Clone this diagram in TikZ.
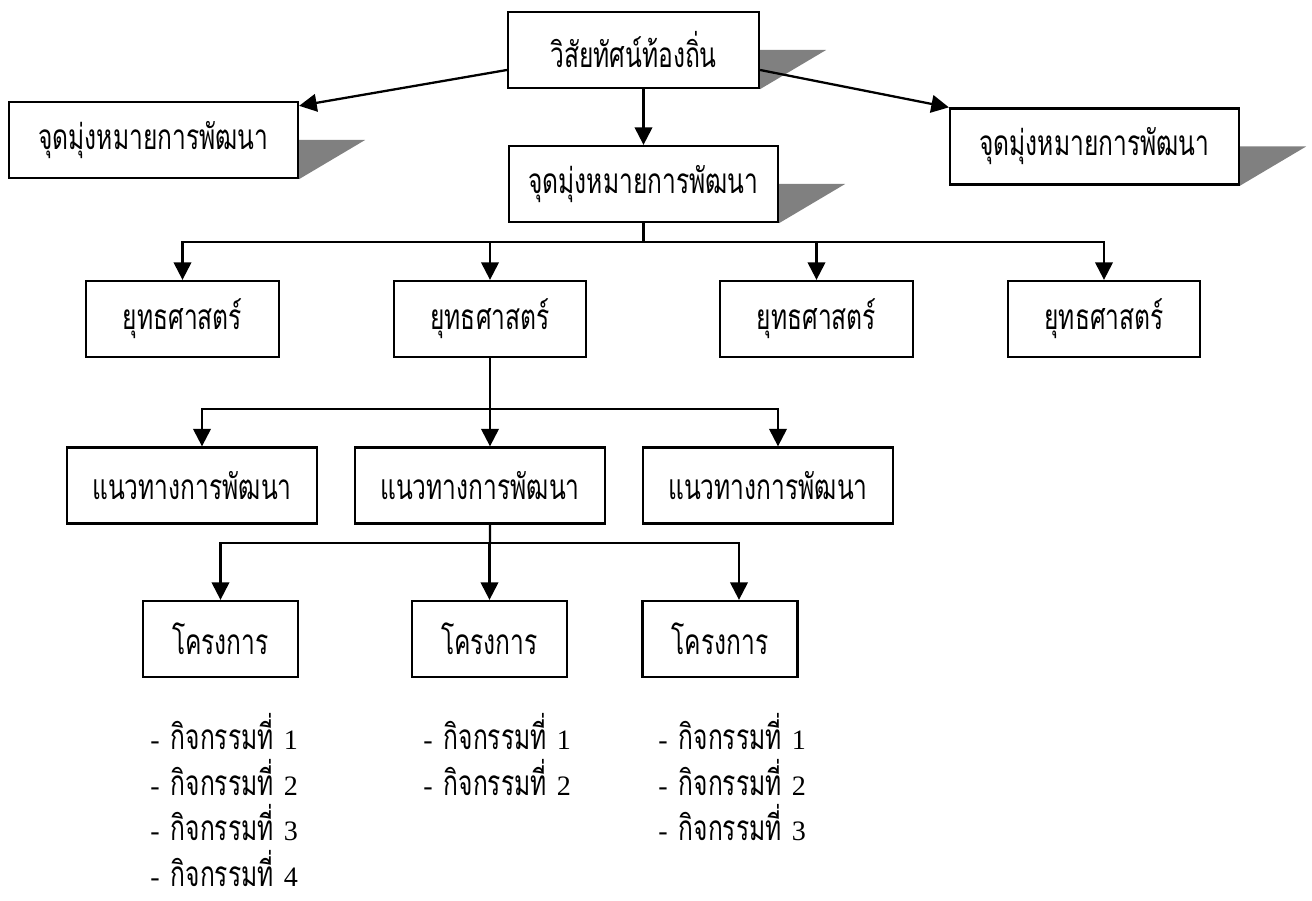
\documentclass[tikz,border=0pt]{standalone}
\usepackage{fontspec}
\setmainfont{Liberation Serif}
\newfontfamily\thaifont[Script=Thai, FakeStretch=0.7]{Loma}
\usetikzlibrary{arrows.meta, backgrounds}
\newcommand{\thtxt}[1]{{\thaifont\fontsize{20}{24}\selectfont #1}}
\tikzstyle{box} = [rectangle, minimum height=1.52cm, inner sep=0pt, text centered, draw=black, line width=1.3pt, font=\thaifont\fontsize{20}{24}\selectfont]
\tikzstyle{shade} = [fill=gray, draw=none]
\tikzstyle{line} = [line width=1.3pt]
\tikzstyle{arrow} = [line width=1.3pt,-{Triangle[length=10pt,width=10pt]}]
\tikzstyle{item} = [anchor=base west, inner sep=0pt, font=\fontsize{16}{18}\selectfont]

\begin{document}
\begin{tikzpicture}[x=0.02cm, y=-0.02cm]
			\useasboundingbox (0,0) rectangle (1312,901);
			\node(vision)[box, minimum width=5.02cm] at (633.5,50) {วิสัยทัศน์ท้องถิ่น};
			\node(goalL)[box, minimum width=5.78cm] at (153.5,140) {จุดมุ่งหมายการพัฒนา};
			\node(goalR)[box, minimum width=5.78cm] at (1094.5,146.5) {จุดมุ่งหมายการพัฒนา};
			\node(goalM)[box, minimum width=5.38cm] at (643.5,184) {จุดมุ่งหมายการพัฒนา};
			\foreach \name/\x in {strat1/182.5, strat2/490, strat3/816.5, strat4/1104}
				\node(\name)[box, minimum width=3.85cm] at (\x,319) {ยุทธศาสตร์};
			\foreach \name/\x in {guide1/192, guide2/480, guide3/768}
				\node(\name)[box, minimum width=5cm] at (\x,485.5) {แนวทางการพัฒนา};
			\foreach \name/\x in {proj1/220.5, proj2/489.5, proj3/720}
				\node(\name)[box, minimum width=3.1cm] at (\x,639) {โครงการ};

			% shadows
			\begin{scope}[on background layer]
				\foreach \n in {vision, goalL, goalR, goalM}
					\fill[shade] (\n.east) -- ++(66,0) -- (\n.south east) -- cycle;
			\end{scope}

			\draw [arrow] (vision.south -| goalM.north) -- (goalM.north);
			\draw [arrow] ([yshift=-0.4cm]vision.west) -- ([yshift=-0.1cm]goalL.north east);
			\draw [arrow] ([yshift=-0.4cm]vision.east) -- (goalR.north west);

			\coordinate (sbar) at (643.5,242);
			\draw [line] (goalM.south) -- (sbar);
			\foreach \n in {strat1, strat2, strat3, strat4}
				\draw [arrow] (sbar) -| (\n.north);

			\coordinate (gbar) at (490,409);
			\draw [line] (strat2.south) -- (gbar);
			\foreach \n in {guide1, guide2, guide3}
				\draw [arrow] (gbar) -| ([xshift=0.2cm]\n.north);

			\coordinate (pbar) at (490,543);
			\draw [line] ([xshift=0.2cm]guide2.south) -- (pbar);
			\foreach \n/\s in {proj1/0, proj2/0, proj3/0.38}
				\draw [arrow] (pbar) -| ([xshift=\s cm]\n.north);

			% activities
			\foreach \i in {1,...,4}
				\node(actA\i)[item] at (150,704+45.5*\i) {-\hspace{0.22cm}\thtxt{กิจกรรมที่}\hspace{0.2cm}\i};
			\foreach \i in {1,2}
				\node(actB\i)[item] at (423,704+45.5*\i) {-\hspace{0.22cm}\thtxt{กิจกรรมที่}\hspace{0.2cm}\i};
			\foreach \i in {1,2,3}
				\node(actC\i)[item] at (658,704+45.5*\i) {-\hspace{0.22cm}\thtxt{กิจกรรมที่}\hspace{0.2cm}\i};
		\end{tikzpicture}
\end{document}
